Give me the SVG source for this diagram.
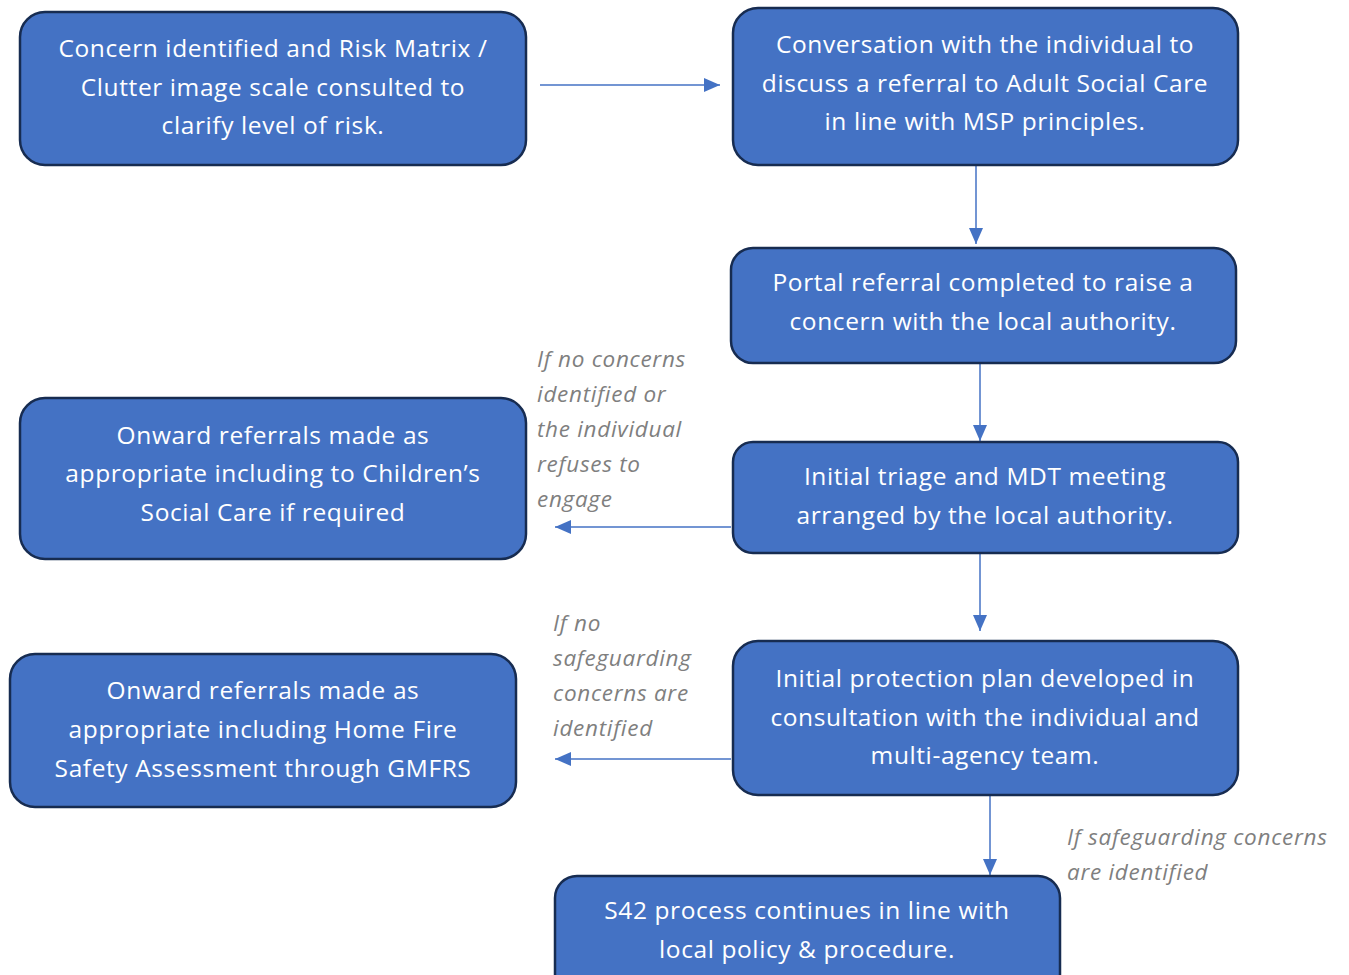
<svg xmlns="http://www.w3.org/2000/svg" width="1349" height="975" viewBox="0 0 1349 975">
<style>
.box{fill:#4472C4;stroke:#172C51;stroke-width:2.5}
.t{font-family:"Open Sans","Liberation Sans",Arial,sans-serif;font-size:24.5px;letter-spacing:0.6px;fill:#fff;text-anchor:middle}
.lb{font-family:"Open Sans","Liberation Sans",Arial,sans-serif;font-size:22.5px;letter-spacing:0.7px;font-style:italic;fill:#7F7F7F}
.c{stroke:#4472C4;stroke-width:1.5;fill:none;marker-end:url(#ah)}
</style>
<defs>
<marker id="ah" markerWidth="16" markerHeight="14" refX="16" refY="7" orient="auto" markerUnits="userSpaceOnUse">
<path d="M0,0 L16,7 L0,14 Z" fill="#4472C4"/>
</marker>
</defs>
<rect width="1349" height="975" fill="#fff"/>
<g id="connectors">
<line class="c" x1="540" y1="85" x2="720" y2="85"/>
<line class="c" x1="976" y1="165" x2="976" y2="244"/>
<line class="c" x1="980" y1="363" x2="980" y2="441"/>
<line class="c" x1="980" y1="553" x2="980" y2="631"/>
<line class="c" x1="731" y1="527" x2="555" y2="527"/>
<line class="c" x1="731" y1="759" x2="555" y2="759"/>
<line class="c" x1="990" y1="795" x2="990" y2="875"/>
</g>
<g id="n1"><rect class="box" x="20" y="12" width="506" height="153" rx="25"/>
<text class="t" x="273"><tspan x="273" y="57">Concern identified and Risk Matrix /</tspan><tspan x="273" y="96">Clutter image scale consulted to</tspan><tspan x="273" y="134">clarify level of risk.</tspan></text></g>
<g id="n2"><rect class="box" x="733" y="8" width="505" height="157" rx="25"/>
<text class="t"><tspan x="985" y="53">Conversation with the individual to</tspan><tspan x="985" y="92">discuss a referral to Adult Social Care</tspan><tspan x="985" y="130">in line with MSP principles.</tspan></text></g>
<g id="n3"><rect class="box" x="731" y="248" width="505" height="115" rx="22"/>
<text class="t"><tspan x="983" y="291">Portal referral completed to raise a</tspan><tspan x="983" y="330">concern with the local authority.</tspan></text></g>
<g id="n4"><rect class="box" x="733" y="442" width="505" height="111" rx="20"/>
<text class="t"><tspan x="985" y="485">Initial triage and MDT meeting</tspan><tspan x="985" y="524">arranged by the local authority.</tspan></text></g>
<g id="n5"><rect class="box" x="20" y="398" width="506" height="161" rx="25"/>
<text class="t"><tspan x="273" y="444">Onward referrals made as</tspan><tspan x="273" y="482">appropriate including to Children’s</tspan><tspan x="273" y="521">Social Care if required</tspan></text></g>
<g id="n6"><rect class="box" x="733" y="641" width="505" height="154" rx="25"/>
<text class="t"><tspan x="985" y="687">Initial protection plan developed in</tspan><tspan x="985" y="726">consultation with the individual and</tspan><tspan x="985" y="764">multi-agency team.</tspan></text></g>
<g id="n7"><rect class="box" x="10" y="654" width="506" height="153" rx="25"/>
<text class="t"><tspan x="263" y="699">Onward referrals made as</tspan><tspan x="263" y="738">appropriate including Home Fire</tspan><tspan x="263" y="777">Safety Assessment through GMFRS</tspan></text></g>
<g id="n8"><rect class="box" x="555" y="876" width="505" height="120" rx="22"/>
<text class="t"><tspan x="807" y="919">S42 process continues in line with</tspan><tspan x="807" y="958">local policy &amp; procedure.</tspan></text></g>
<g id="labels">
<text class="lb"><tspan x="537" y="367">If no concerns</tspan><tspan x="537" y="402">identified or</tspan><tspan x="537" y="437">the individual</tspan><tspan x="537" y="472">refuses to</tspan><tspan x="537" y="507">engage</tspan></text>
<text class="lb"><tspan x="553" y="631">If no</tspan><tspan x="553" y="666">safeguarding</tspan><tspan x="553" y="701">concerns are</tspan><tspan x="553" y="736">identified</tspan></text>
<text class="lb"><tspan x="1067" y="845">If safeguarding concerns</tspan><tspan x="1067" y="880">are identified</tspan></text>
</g>
</svg>
